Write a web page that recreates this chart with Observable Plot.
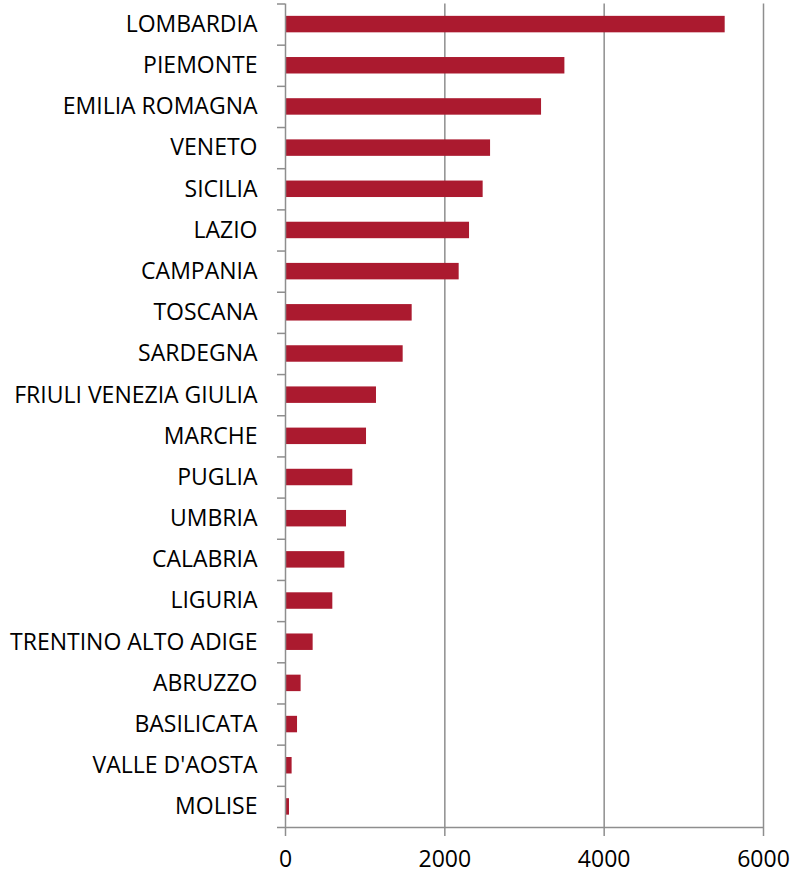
<!DOCTYPE html>
<html>
<head>
<meta charset="utf-8">
<script src="https://cdn.jsdelivr.net/npm/d3@7"></script>
<script src="https://cdn.jsdelivr.net/npm/@observablehq/plot@0.6"></script>
<style>
  html, body { margin: 0; padding: 0; background: #fff; }
</style>
</head>
<body>
<div id="chart"></div>
<script>
const regions = [
  "LOMBARDIA", "PIEMONTE", "EMILIA ROMAGNA", "VENETO", "SICILIA", "LAZIO",
  "CAMPANIA", "TOSCANA", "SARDEGNA", "FRIULI VENEZIA GIULIA", "MARCHE",
  "PUGLIA", "UMBRIA", "CALABRIA", "LIGURIA", "TRENTINO ALTO ADIGE",
  "ABRUZZO", "BASILICATA", "VALLE D'AOSTA", "MOLISE"
];
const values = [
  5519, 3507, 3214, 2574, 2481, 2310,
  2180, 1590, 1477, 1142, 1017,
  845, 766, 745, 594, 347,
  196, 151, 83, 50
];
const xTicks = [0, 2000, 4000, 6000];
const gridValues = [2000, 4000, 6000];

const data = regions.map((region, i) => ({ region, value: values[i], i }));
const n = regions.length;
const gray = "#8e8e8e";

const chart = Plot.plot({
  width: 798,
  height: 879,
  marginLeft: 285,
  marginRight: 35,
  marginTop: 3.5,
  marginBottom: 52,
  style: { fontFamily: "'Open Sans', sans-serif", fontSize: "23px", color: "#000", background: "#fff" },
  x: { domain: [0, 6000] },
  y: { domain: [0, n], reverse: true },
  marks: [
    Plot.ruleX(gridValues, { stroke: gray, strokeWidth: 1.5 }),
    Plot.rectX(data, {
      x1: 0,
      x2: "value",
      y1: d => d.i + 0.3,
      y2: d => d.i + 0.7,
      fill: "#ab1a2f"
    }),
    Plot.ruleX([0], { stroke: gray, strokeWidth: 1.5 }),
    Plot.ruleY([n], { stroke: gray, strokeWidth: 1.5 }),
    Plot.axisY({
      ticks: d3.range(0, n + 1),
      tickSize: 8,
      tickFormat: () => "",
      stroke: gray,
      strokeWidth: 1.5,
      label: null
    }),
    Plot.axisY({
      ticks: d3.range(n).map(i => i + 0.5),
      tickSize: 0,
      tickPadding: 28,
      tickFormat: v => regions[Math.floor(v)],
      fill: "#000",
      fontSize: 23,
      label: null
    }),
    Plot.axisX({
      ticks: xTicks,
      tickSize: 9,
      tickPadding: 14,
      tickFormat: d => String(d),
      stroke: gray,
      strokeWidth: 1.5,
      fill: "#000",
      fontSize: 23,
      label: null
    })
  ]
});
document.getElementById("chart").appendChild(chart);
</script>
</body>
</html>
